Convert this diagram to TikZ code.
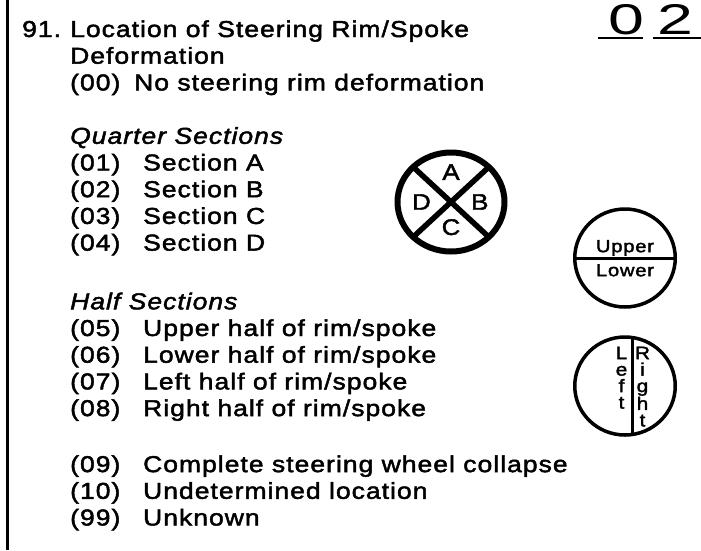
\documentclass[tikz,border=0pt]{standalone}
\usepackage{fontspec}
\setmainfont{Liberation Sans}[FakeStretch=1.15, LetterSpace=4.5, FakeBold=2]
\newfontfamily\handfont{Liberation Sans}[FakeStretch=1.5, LetterSpace=30]
\usetikzlibrary{positioning, shapes.geometric}

\tikzset{
  every node/.style={inner sep=0pt},
  entry/.style={font=\fontsize{23}{27}\selectfont, anchor=base west},
  heading/.style={entry, font=\fontsize{23}{27}\selectfont\itshape},
  nextline/.style 2 args={below=#1 of #2.base west, anchor=base west},
  rim/.style={draw, ellipse, outer sep=0pt},
  letter/.style={font=\fontsize{22.5}{22.5}\selectfont},
  small/.style={font=\fontsize{17.5}{17.5}\selectfont},
  stack/.style={font=\fontsize{18}{16.5}\selectfont, align=center, anchor=north},
}

\begin{document}
\begin{tikzpicture}[x=1pt, y=-1pt]
  \useasboundingbox (0,0) rectangle (701,550);
  \coordinate (ruletop) at (7.5,0);
  \coordinate (rulebot) at (7.5,550);
  \draw[line width=2.5pt] (ruletop) -- (rulebot);
%
  \node[entry] (num) at (22,37) {91.};
  \node[entry] (title) at (70,37) {Location of Steering Rim/Spoke};
  \node[entry, nextline={26.7pt}{title}] (title2) {Deformation};
  \node[entry, nextline={26.7pt}{title2}] (c00) {\makebox[64pt][l]{(00)}No steering rim deformation};
%
  \node[heading, nextline={53.4pt}{c00}] (quarter) {Quarter Sections};
  \node[entry, nextline={26.7pt}{quarter}] (c01) {\makebox[73pt][l]{(01)}Section A};
  \node[entry, nextline={26.7pt}{c01}] (c02) {\makebox[73pt][l]{(02)}Section B};
  \node[entry, nextline={26.7pt}{c02}] (c03) {\makebox[73pt][l]{(03)}Section C};
  \node[entry, nextline={26.7pt}{c03}] (c04) {\makebox[73pt][l]{(04)}Section D};
%
  \node[heading, nextline={58.7pt}{c04}] (half) {Half Sections};
  \node[entry, nextline={26.7pt}{half}] (c05) {\makebox[73pt][l]{(05)}Upper half of rim/spoke};
  \node[entry, nextline={26.7pt}{c05}] (c06) {\makebox[73pt][l]{(06)}Lower half of rim/spoke};
  \node[entry, nextline={26.7pt}{c06}] (c07) {\makebox[73pt][l]{(07)}Left half of rim/spoke};
  \node[entry, nextline={26.7pt}{c07}] (c08) {\makebox[73pt][l]{(08)}Right half of rim/spoke};
%
  \node[entry, nextline={56pt}{c08}] (c09) {\makebox[73pt][l]{(09)}Complete steering wheel collapse};
  \node[entry, nextline={26.7pt}{c09}] (c10) {\makebox[73pt][l]{(10)}Undetermined location};
  \node[entry, nextline={26.7pt}{c10}] (c99) {\makebox[73pt][l]{(99)}Unknown};
%
  % quarter sections wheel
  \node[rim, line width=6pt, minimum width=107pt, minimum height=99pt] (quad) at (451,202) {};
  \draw[line width=5.5pt] (quad.north west) -- (quad.south east);
  \draw[line width=5.5pt] (quad.north east) -- (quad.south west);
  \node[letter, above=22pt of quad.center] (qa) {A};
  \node[letter, right=20pt of quad.center] (qb) {B};
  \node[letter, below=17pt of quad.center] (qc) {C};
  \node[letter, left=20pt of quad.center] (qd) {D};
%
  % upper / lower wheel
  \node[rim, line width=3.5pt, minimum width=100.5pt, minimum height=98pt] (updown) at (625,258) {};
  \draw[line width=3pt] (updown.west) -- (updown.east);
  \node[small, above=2pt of updown.center] (upper) {Upper};
  \node[small, below=6pt of updown.center] (lower) {Lower};
%
  % left / right wheel
  \node[rim, line width=3.5pt, minimum width=100.5pt, minimum height=98pt] (side) at (625,386) {};
  \draw[line width=3pt] ([xshift=7pt]side.north) -- ([xshift=7pt]side.south);
  \node[stack] (left) at ([xshift=-3.5pt, yshift=39.5pt]side.center) {L\\e\\f\\t};
  \node[stack] (right) at ([xshift=17.5pt, yshift=39.5pt]side.center) {R\\i\\g\\h\\t};
%
  % handwritten answer
  \node[font=\handfont\fontsize{43}{43}\selectfont] (answer) at (651,19.5) {02};
  \coordinate (blank1a) at (598,38);
  \coordinate (blank1b) at (643,38);
  \coordinate (blank2a) at (653,38);
  \coordinate (blank2b) at (701,38);
  \draw[line width=1.5pt] (blank1a) -- (blank1b);
  \draw[line width=1.5pt] (blank2a) -- (blank2b);
\end{tikzpicture}
\end{document}
